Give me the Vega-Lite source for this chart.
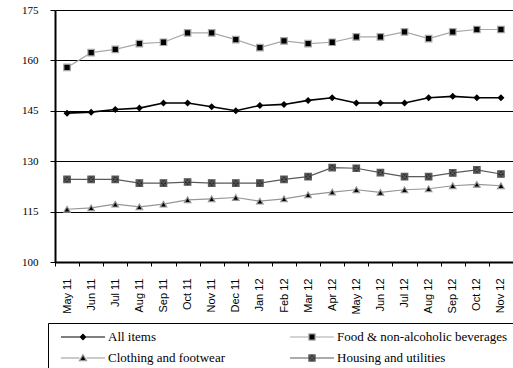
{
  "$schema": "https://vega.github.io/schema/vega-lite/v6.json",
  "autosize": {"type": "none"},
  "width": 458,
  "height": 252,
  "padding": {"left": 55, "top": 10, "right": 0, "bottom": 106},
  "background": "white",
  "config": {
    "view": {"stroke": null},
    "axis": {"labelColor": "black", "tickColor": "black", "domainColor": "black"}
  },
  "data": {
    "values": [
      {"month": "May 11", "series": "All items", "value": 144.3},
      {"month": "Jun 11", "series": "All items", "value": 144.6},
      {"month": "Jul 11", "series": "All items", "value": 145.4},
      {"month": "Aug 11", "series": "All items", "value": 145.8},
      {"month": "Sep 11", "series": "All items", "value": 147.3},
      {"month": "Oct 11", "series": "All items", "value": 147.3},
      {"month": "Nov 11", "series": "All items", "value": 146.2},
      {"month": "Dec 11", "series": "All items", "value": 145.0},
      {"month": "Jan 12", "series": "All items", "value": 146.6},
      {"month": "Feb 12", "series": "All items", "value": 146.9},
      {"month": "Mar 12", "series": "All items", "value": 148.1},
      {"month": "Apr 12", "series": "All items", "value": 148.9},
      {"month": "May 12", "series": "All items", "value": 147.3},
      {"month": "Jun 12", "series": "All items", "value": 147.3},
      {"month": "Jul 12", "series": "All items", "value": 147.3},
      {"month": "Aug 12", "series": "All items", "value": 148.9},
      {"month": "Sep 12", "series": "All items", "value": 149.3},
      {"month": "Oct 12", "series": "All items", "value": 148.9},
      {"month": "Nov 12", "series": "All items", "value": 148.9},

      {"month": "May 11", "series": "Food & non-alcoholic beverages", "value": 157.9},
      {"month": "Jun 11", "series": "Food & non-alcoholic beverages", "value": 162.3},
      {"month": "Jul 11", "series": "Food & non-alcoholic beverages", "value": 163.3},
      {"month": "Aug 11", "series": "Food & non-alcoholic beverages", "value": 165.0},
      {"month": "Sep 11", "series": "Food & non-alcoholic beverages", "value": 165.4},
      {"month": "Oct 11", "series": "Food & non-alcoholic beverages", "value": 168.2},
      {"month": "Nov 11", "series": "Food & non-alcoholic beverages", "value": 168.2},
      {"month": "Dec 11", "series": "Food & non-alcoholic beverages", "value": 166.2},
      {"month": "Jan 12", "series": "Food & non-alcoholic beverages", "value": 163.8},
      {"month": "Feb 12", "series": "Food & non-alcoholic beverages", "value": 165.8},
      {"month": "Mar 12", "series": "Food & non-alcoholic beverages", "value": 165.0},
      {"month": "Apr 12", "series": "Food & non-alcoholic beverages", "value": 165.4},
      {"month": "May 12", "series": "Food & non-alcoholic beverages", "value": 167.0},
      {"month": "Jun 12", "series": "Food & non-alcoholic beverages", "value": 167.0},
      {"month": "Jul 12", "series": "Food & non-alcoholic beverages", "value": 168.5},
      {"month": "Aug 12", "series": "Food & non-alcoholic beverages", "value": 166.5},
      {"month": "Sep 12", "series": "Food & non-alcoholic beverages", "value": 168.5},
      {"month": "Oct 12", "series": "Food & non-alcoholic beverages", "value": 169.2},
      {"month": "Nov 12", "series": "Food & non-alcoholic beverages", "value": 169.2},

      {"month": "May 11", "series": "Clothing and footwear", "value": 115.7},
      {"month": "Jun 11", "series": "Clothing and footwear", "value": 116.1},
      {"month": "Jul 11", "series": "Clothing and footwear", "value": 117.2},
      {"month": "Aug 11", "series": "Clothing and footwear", "value": 116.4},
      {"month": "Sep 11", "series": "Clothing and footwear", "value": 117.2},
      {"month": "Oct 11", "series": "Clothing and footwear", "value": 118.5},
      {"month": "Nov 11", "series": "Clothing and footwear", "value": 118.8},
      {"month": "Dec 11", "series": "Clothing and footwear", "value": 119.2},
      {"month": "Jan 12", "series": "Clothing and footwear", "value": 118.1},
      {"month": "Feb 12", "series": "Clothing and footwear", "value": 118.8},
      {"month": "Mar 12", "series": "Clothing and footwear", "value": 120.0},
      {"month": "Apr 12", "series": "Clothing and footwear", "value": 120.8},
      {"month": "May 12", "series": "Clothing and footwear", "value": 121.5},
      {"month": "Jun 12", "series": "Clothing and footwear", "value": 120.7},
      {"month": "Jul 12", "series": "Clothing and footwear", "value": 121.5},
      {"month": "Aug 12", "series": "Clothing and footwear", "value": 121.8},
      {"month": "Sep 12", "series": "Clothing and footwear", "value": 122.7},
      {"month": "Oct 12", "series": "Clothing and footwear", "value": 123.1},
      {"month": "Nov 12", "series": "Clothing and footwear", "value": 122.7},

      {"month": "May 11", "series": "Housing and utilities", "value": 124.6},
      {"month": "Jun 11", "series": "Housing and utilities", "value": 124.6},
      {"month": "Jul 11", "series": "Housing and utilities", "value": 124.6},
      {"month": "Aug 11", "series": "Housing and utilities", "value": 123.5},
      {"month": "Sep 11", "series": "Housing and utilities", "value": 123.5},
      {"month": "Oct 11", "series": "Housing and utilities", "value": 123.8},
      {"month": "Nov 11", "series": "Housing and utilities", "value": 123.5},
      {"month": "Dec 11", "series": "Housing and utilities", "value": 123.5},
      {"month": "Jan 12", "series": "Housing and utilities", "value": 123.5},
      {"month": "Feb 12", "series": "Housing and utilities", "value": 124.6},
      {"month": "Mar 12", "series": "Housing and utilities", "value": 125.4},
      {"month": "Apr 12", "series": "Housing and utilities", "value": 128.1},
      {"month": "May 12", "series": "Housing and utilities", "value": 127.9},
      {"month": "Jun 12", "series": "Housing and utilities", "value": 126.6},
      {"month": "Jul 12", "series": "Housing and utilities", "value": 125.4},
      {"month": "Aug 12", "series": "Housing and utilities", "value": 125.4},
      {"month": "Sep 12", "series": "Housing and utilities", "value": 126.5},
      {"month": "Oct 12", "series": "Housing and utilities", "value": 127.4},
      {"month": "Nov 12", "series": "Housing and utilities", "value": 126.2}
    ]
  },
  "encoding": {
    "x": {
      "field": "month",
      "type": "nominal",
      "sort": null,
      "scale": {"paddingInner": 0, "paddingOuter": 0},
      "axis": {
        "title": null,
        "labelAngle": -90,
        "labelFont": "Liberation Sans",
        "labelFontSize": 11,
        "labelPadding": 12,
        "tickSize": 4,
        "tickBand": "extent",
        "domainWidth": 2,
        "grid": false
      }
    },
    "y": {
      "field": "value",
      "type": "quantitative",
      "scale": {"domain": [100, 175], "nice": false, "zero": false},
      "axis": {
        "title": null,
        "values": [100, 115, 130, 145, 160, 175],
        "labelFont": "Liberation Serif",
        "labelFontSize": 11,
        "labelPadding": 12,
        "tickSize": 5,
        "domainWidth": 2,
        "grid": true,
        "gridColor": "black",
        "gridOpacity": 1,
        "gridWidth": 1
      }
    },
    "stroke": {
      "field": "series",
      "type": "nominal",
      "scale": {
        "domain": ["All items", "Food & non-alcoholic beverages", "Clothing and footwear", "Housing and utilities"],
        "range": ["#000000", "#a8a8a8", "#969696", "#5a5a5a"]
      },
      "legend": {
        "title": null,
        "orient": "none",
        "legendX": -7,
        "legendY": 313,
        "columns": 2,
        "direction": "horizontal",
        "strokeColor": "black",
        "fillColor": "white",
        "padding": 8,
        "clipHeight": 12,
        "rowPadding": 8,
        "columnPadding": 60,
        "symbolSize": 1936,
        "symbolOffset": 4,
        "symbolStrokeWidth": 1.2,
        "labelOffset": 2,
        "labelFont": "Liberation Serif",
        "labelFontSize": 13,
        "labelColor": "black",
        "labelLimit": 0
      }
    }
  },
  "layer": [
    {
      "mark": {"type": "line"},
      "encoding": {
        "strokeWidth": {
          "condition": {"test": "datum.series === 'All items'", "value": 1.6},
          "value": 1.2
        }
      }
    },
    {
      "mark": {"type": "point", "filled": true, "opacity": 1, "strokeWidth": 1.2},
      "encoding": {
        "fill": {
          "condition": {"test": "datum.series === 'Housing and utilities'", "value": "#2e2e2e"},
          "value": "#000000"
        },
        "shape": {
          "condition": [
            {"test": "datum.series === 'All items'", "value": "diamond"},
            {"test": "datum.series === 'Clothing and footwear'", "value": "triangle-up"},
            {"test": "datum.series === 'Housing and utilities'", "value": "M-1,-1H1V1H-1ZM-1,-1L1,1M-1,1L1,-1"}
          ],
          "value": "square"
        },
        "size": {
          "condition": {"test": "datum.series === 'All items'", "value": 28},
          "value": 42
        }
      }
    },
    {
      "transform": [{"filter": "datum.value < 0"}],
      "mark": {"type": "point", "filled": true, "opacity": 1, "strokeWidth": 1.2},
      "encoding": {
        "fill": {
          "field": "series",
          "type": "nominal",
          "scale": {
            "domain": ["All items", "Food & non-alcoholic beverages", "Clothing and footwear", "Housing and utilities"],
            "range": ["#000000", "#000000", "#000000", "#2e2e2e"]
          }
        },
        "shape": {
          "field": "series",
          "type": "nominal",
          "scale": {
            "domain": ["All items", "Food & non-alcoholic beverages", "Clothing and footwear", "Housing and utilities"],
            "range": [
              "M-1,0H1M0,-0.12L0.12,0L0,0.12L-0.12,0Z",
              "M-1,0H-0.14M0.14,0H1M-0.14,-0.14H0.14V0.14H-0.14Z",
              "M-1,0H-0.16M0.16,0H1M0,-0.15L0.16,0.12H-0.16Z",
              "M-1,0H-0.14M0.14,0H1M-0.14,-0.14H0.14V0.14H-0.14ZM-0.14,-0.14L0.14,0.14M-0.14,0.14L0.14,-0.14"
            ]
          }
        }
      }
    }
  ]
}
